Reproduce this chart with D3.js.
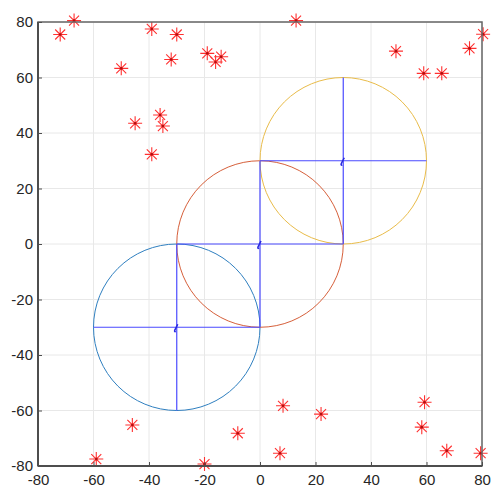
<!DOCTYPE html>
<html><head><meta charset="utf-8">
<script src="https://cdn.jsdelivr.net/npm/d3@7"></script>
<style>body{margin:0;background:#fff;}svg{display:block;}</style>
</head><body>
<script>
const ticks = [-80,-60,-40,-20,0,20,40,60,80];
const tickLabels = ["-80","-60","-40","-20","0","20","40","60","80"];
const circleCentersX = [-30, 0, 30];
const circleCentersY = [-30, 0, 30];
const circleRadius = [30, 30, 30];
const circleColors = ["#2f7fc0", "#d65f3a", "#e9bc4a"];
const pointsX = [-72,-67,-39,-30,-32,-50,-19,-16,-14,-36,-35,-45,-39,13,49,59,65.5,75.5,80.4,-59,-46,-20,-8,8.3,22,7.2,59.3,58.3,67.3,79.5];
const pointsY = [75.5,80.5,77.5,75.5,66.5,63.3,68.7,65.6,67.5,46.5,42.5,43.5,32.3,80.5,69.5,61.5,61.5,70.5,75.6,-77.5,-65.2,-79.3,-68.2,-58.3,-61.3,-75.4,-57,-66,-74.5,-75.4];

const W = 494, H = 492;
const m = {l:38, r:12, t:22, b:26};
const svg = d3.select("body").append("svg").attr("width", W).attr("height", H);
const x = d3.scaleLinear().domain([-80,80]).range([m.l, W-m.r]);
const y = d3.scaleLinear().domain([-80,80]).range([H-m.b, m.t]);

// grid
const g = svg.append("g");
g.selectAll(".gx").data(ticks).enter().append("line")
 .attr("x1", d=>x(d)).attr("x2", d=>x(d)).attr("y1", y(-80)).attr("y2", y(80))
 .attr("stroke", "#e8e8e8").attr("stroke-width", 1);
g.selectAll(".gy").data(ticks).enter().append("line")
 .attr("y1", d=>y(d)).attr("y2", d=>y(d)).attr("x1", x(-80)).attr("x2", x(80))
 .attr("stroke", "#e8e8e8").attr("stroke-width", 1);

// circles
const circ = circleCentersX.map((cx,i)=>({cx, cy:circleCentersY[i], r:circleRadius[i], c:circleColors[i]}));
svg.selectAll(".circ").data(circ).enter().append("ellipse")
 .attr("cx", d=>x(d.cx)).attr("cy", d=>y(d.cy))
 .attr("rx", d=>x(d.cx+d.r)-x(d.cx)).attr("ry", d=>y(d.cy)-y(d.cy+d.r))
 .attr("fill", "none").attr("stroke", d=>d.c).attr("stroke-width", 1);

// blue cross lines
const crossCol = "#4a4aff";
circ.forEach(d=>{
  svg.append("line").attr("x1", x(d.cx-d.r)).attr("x2", x(d.cx+d.r)).attr("y1", y(d.cy)).attr("y2", y(d.cy))
    .attr("stroke", crossCol).attr("stroke-width", 1.2);
  svg.append("line").attr("x1", x(d.cx)).attr("x2", x(d.cx)).attr("y1", y(d.cy-d.r)).attr("y2", y(d.cy+d.r))
    .attr("stroke", crossCol).attr("stroke-width", 1.2);
  svg.append("path").attr("d", `M${x(d.cx)+1},${y(d.cy)-3} L${x(d.cx)-2},${y(d.cy)+3} q-0.5,2 1,1`)
    .attr("fill","none").attr("stroke", "#2a2ae0").attr("stroke-width", 1.6);
});

// star markers
const pts = pointsX.map((px,i)=>[px, pointsY[i]]);
const R = 7, Rd = 5;
const starPath = `M${-R},0L${R},0M0,${-R}L0,${R}M${-Rd},${-Rd}L${Rd},${Rd}M${-Rd},${Rd}L${Rd},${-Rd}`;
const sg = svg.selectAll(".star").data(pts).enter().append("g")
 .attr("transform", d=>`translate(${x(d[0])},${y(d[1])})`);
sg.append("path").attr("d", starPath).attr("stroke", "#ff3030").attr("stroke-width", 1.1).attr("fill","none");
sg.append("circle").attr("r", 1.3).attr("fill", "#b01010");

// axes box
svg.append("rect").attr("x", x(-80)).attr("y", y(80)).attr("width", x(80)-x(-80)).attr("height", y(-80)-y(80))
 .attr("fill","none").attr("stroke","#666").attr("stroke-width",1.5);
svg.append("line").attr("x1", x(-80)).attr("x2", x(-80)).attr("y1", y(80)).attr("y2", y(-80)).attr("stroke","#4d4d4d").attr("stroke-width",2);
svg.append("line").attr("x1", x(-80)).attr("x2", x(80)).attr("y1", y(-80)).attr("y2", y(-80)).attr("stroke","#4d4d4d").attr("stroke-width",2);

// ticks inward
const fmt = d => tickLabels[ticks.indexOf(d)];
const xa = d3.axisBottom(x).tickValues(ticks).tickSize(-4).tickPadding(8).tickFormat(fmt);
const ya = d3.axisLeft(y).tickValues(ticks).tickSize(-4).tickPadding(5).tickFormat(fmt);
const gx = svg.append("g").attr("transform", `translate(0,${y(-80)})`).call(xa);
const gy = svg.append("g").attr("transform", `translate(${x(-80)},0)`).call(ya);
[gx, gy].forEach(a=>{
  a.select(".domain").remove();
  a.selectAll(".tick line").attr("stroke","#4d4d4d");
  a.selectAll("text").attr("fill","#262626").style("font-family","Liberation Sans, Arial, sans-serif").style("font-size","15px");
});
</script>
</body></html>
